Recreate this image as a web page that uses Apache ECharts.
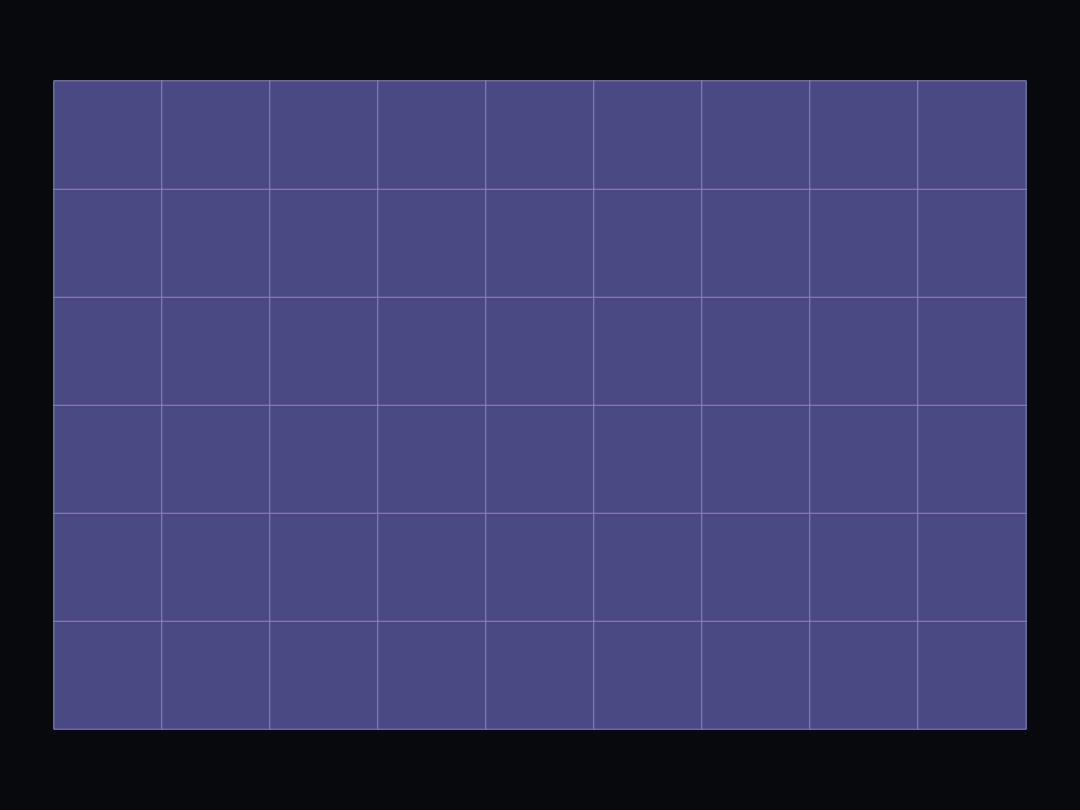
<!DOCTYPE html>
<html>
<head>
<meta charset="utf-8">
<script src="https://cdn.jsdelivr.net/npm/echarts@6/dist/echarts.min.js"></script>
<style>
  html, body { margin: 0; padding: 0; background: #07090d; }
  #chart { width: 1080px; height: 810px; }
</style>
</head>
<body>
<div id="chart"></div>
<script>
// columns and rows of the grid
var xCats = ['c1', 'c2', 'c3', 'c4', 'c5', 'c6', 'c7', 'c8', 'c9'];
var yCats = ['r1', 'r2', 'r3', 'r4', 'r5', 'r6'];
// every cell has the same value
var rowValues = [
    [1, 1, 1, 1, 1, 1, 1, 1, 1],
    [1, 1, 1, 1, 1, 1, 1, 1, 1],
    [1, 1, 1, 1, 1, 1, 1, 1, 1],
    [1, 1, 1, 1, 1, 1, 1, 1, 1],
    [1, 1, 1, 1, 1, 1, 1, 1, 1],
    [1, 1, 1, 1, 1, 1, 1, 1, 1]
];

var cells = [];
rowValues.forEach(function(row, j) {
    row.forEach(function(v, i) {
        cells.push([i, j, v]);
    });
});

var chart = echarts.init(document.getElementById('chart'));
chart.setOption({
    backgroundColor: '#07090d',
    animation: false,
    grid: { left: 54, right: 54, top: 81, bottom: 81 },
    xAxis: {
        type: 'category',
        data: xCats,
        axisLine: { show: false },
        axisTick: { show: false },
        axisLabel: { show: false },
        splitLine: { show: false }
    },
    yAxis: {
        type: 'category',
        data: yCats,
        axisLine: { show: false },
        axisTick: { show: false },
        axisLabel: { show: false },
        splitLine: { show: false }
    },
    series: [{
        type: 'heatmap',
        data: cells,
        itemStyle: {
            color: '#4a4983',
            borderColor: '#8a87c2',
            borderWidth: 1
        },
        emphasis: { disabled: true }
    }]
});
</script>
</body>
</html>
